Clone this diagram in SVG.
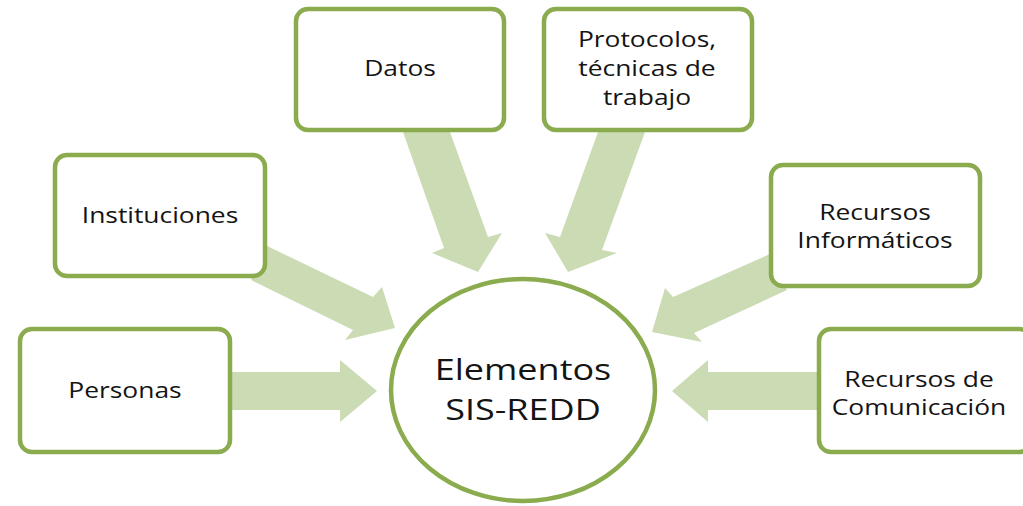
<svg xmlns="http://www.w3.org/2000/svg" width="1023" height="506" viewBox="0 0 1023 506">
<defs>
<style>
.box{fill:#ffffff;stroke:#8aab4e;stroke-width:4.5}
.arr{fill:#cbdbb4}
.t{font-family:"Open Sans","Liberation Sans",sans-serif;font-size:22px;fill:#141414;text-anchor:middle}
.c{font-family:"Open Sans","Liberation Sans",sans-serif;font-size:30px;fill:#141414;text-anchor:middle}
</style>
</defs>
<rect width="1023" height="506" fill="#ffffff"/>
<g id="connectors">
<polygon class="arr" points="230,372 340,372 340,360 377,391 340,422 340,410 230,410"/>
<polygon class="arr" points="817,372 708,372 708,360 672,391 708,422 708,410 817,410"/>
<polygon class="arr" points="265,245 373,297 382,287 395,328 345,340 353,330 251,280"/>
<polygon class="arr" points="403,132 450,132 488,237 502,233 478,272 432,253 444,248"/>
<polygon class="arr" points="598,132 645,132 602,250 617,253 568,272 545,233 560,237"/>
<polygon class="arr" points="770,254 787,290 694,333 702,342 652,332 665,288 673,297"/>
</g>
<g id="center">
<ellipse cx="523" cy="390" rx="132" ry="111" fill="#ffffff" stroke="#8aab4e" stroke-width="4.5"/>
<text class="c" transform="translate(523,380) scale(1.2,1)">Elementos</text>
<text class="c" transform="translate(523,420) scale(1.2,1)">SIS-REDD</text>
</g>
<g id="personas">
<rect class="box" x="20" y="329" width="210" height="123" rx="12"/>
<text class="t" transform="translate(125,398) scale(1.2,1)">Personas</text>
</g>
<g id="instituciones">
<rect class="box" x="55" y="155" width="210" height="121" rx="12"/>
<text class="t" transform="translate(160,223) scale(1.2,1)">Instituciones</text>
</g>
<g id="datos">
<rect class="box" x="296" y="9" width="208" height="121" rx="12"/>
<text class="t" transform="translate(400,76) scale(1.2,1)">Datos</text>
</g>
<g id="protocolos">
<rect class="box" x="544" y="9" width="208" height="121" rx="12"/>
<text class="t" transform="translate(647,47) scale(1.2,1)">Protocolos,</text>
<text class="t" transform="translate(647,76) scale(1.2,1)">técnicas de</text>
<text class="t" transform="translate(647,105) scale(1.2,1)">trabajo</text>
</g>
<g id="informaticos">
<rect class="box" x="771" y="165" width="209" height="121" rx="12"/>
<text class="t" transform="translate(875,220) scale(1.2,1)">Recursos</text>
<text class="t" transform="translate(875,248) scale(1.2,1)">Informáticos</text>
</g>
<g id="comunicacion">
<rect class="box" x="819" y="329" width="212" height="123" rx="12"/>
<text class="t" transform="translate(919,387) scale(1.2,1)">Recursos de</text>
<text class="t" transform="translate(919,415) scale(1.2,1)">Comunicación</text>
</g>
</svg>
